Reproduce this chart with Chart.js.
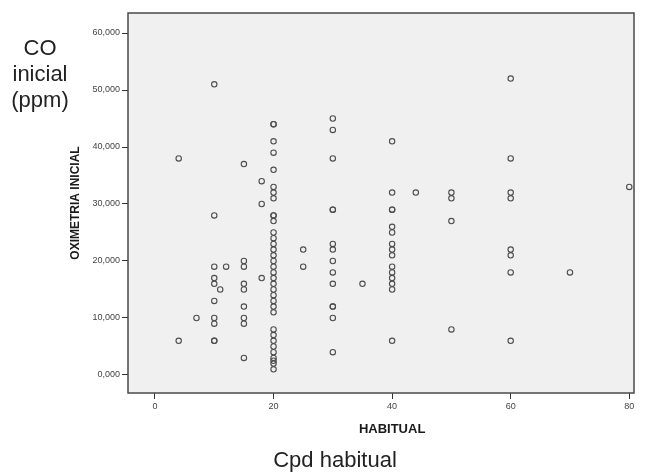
<!DOCTYPE html>
<html>
<head>
<meta charset="utf-8">
<script src="https://cdn.jsdelivr.net/npm/chart.js@4/dist/chart.umd.min.js"></script>
<style>
html,body{margin:0;padding:0;background:#fff;}
#wrap{width:647px;height:474px;position:relative;}
</style>
</head>
<body>
<div id="wrap"><canvas id="c" width="647" height="474"></canvas></div>
<script>
// HABITUAL (cigarettes per day) for each case
const habitual = [
  4,4,
  7,
  10,10,10,10,10,10,10,10,10,10,
  11,
  12,
  15,15,15,15,15,15,15,15,15,
  18,18,18,
  20,20,20,20,20,20,20,20,20,20,20,20,20,20,20,20,20,20,20,20,20,20,20,20,20,20,20,20,20,20,20,20,20,20,20,
  25,25,
  30,30,30,30,30,30,30,30,30,30,30,30,30,30,
  35,
  40,40,40,40,40,40,40,40,40,40,40,40,40,40,40,
  44,
  50,50,50,50,
  60,60,60,60,60,60,60,60,
  70,
  80
];
// OXIMETRIA INICIAL (CO ppm) for each case
const oximetria = [
  38,6,
  10,
  51,28,19,17,16,13,10,9,6,6,
  15,
  19,
  37,20,19,16,15,12,10,9,3,
  34,30,17,
  44,44,41,39,36,33,32,31,28,28,27,25,24,23,22,21,20,19,18,17,16,15,14,13,12,11,8,7,6,5,4,3,2.5,2,1,
  22,19,
  45,43,38,29,29,23,22,20,18,16,12,12,10,4,
  16,
  41,32,29,29,26,25,23,22,21,19,18,17,16,15,6,
  32,
  32,31,27,8,
  52,38,32,31,22,21,18,6,
  18,
  33
];
const xTickValues = [0,20,40,60,80];
const xTickLabels = ['0','20','40','60','80'];
const yTickValues = [0,10,20,30,40,50,60];
const yTickLabels = ['0,000','10,000','20,000','30,000','40,000','50,000','60,000'];
const yAxisTitle = 'OXIMETRIA INICIAL';
const xAxisTitle = 'HABITUAL';
const leftNote = ['CO','inicial','(ppm)'];
const bottomNote = 'Cpd habitual';

const points = habitual.map((x,i)=>({x:x,y:oximetria[i]}));

const decor = {
  id:'decor',
  beforeDraw(chart){
    const {ctx, chartArea:a} = chart;
    ctx.save();
    ctx.fillStyle = '#f0f0f0';
    ctx.fillRect(a.left, a.top, a.right-a.left, a.bottom-a.top);
    ctx.restore();
  },
  afterDraw(chart){
    const {ctx, chartArea:a, scales} = chart;
    ctx.save();
    ctx.strokeStyle = '#4a4a4a';
    ctx.lineWidth = 1.5;
    ctx.strokeRect(a.left, a.top, a.right-a.left, a.bottom-a.top);
    // x axis title centred on the data range
    ctx.fillStyle = '#1a1a1a';
    ctx.font = 'bold 13px "Liberation Sans", Arial, sans-serif';
    ctx.textAlign = 'center';
    ctx.textBaseline = 'alphabetic';
    ctx.fillText(xAxisTitle, scales.x.getPixelForValue(40), 433);
    // notes
    ctx.fillStyle = '#222';
    ctx.font = '22px "Liberation Sans", Arial, sans-serif';
    const base = [55,81,107];
    leftNote.forEach((t,i)=>ctx.fillText(t, 40, base[i]));
    ctx.fillText(bottomNote, 335, 467);
    ctx.restore();
  }
};

new Chart(document.getElementById('c'), {
  type:'scatter',
  data:{datasets:[{
    data:points,
    clip:false,
    pointStyle:'circle',
    pointRadius:2.7,
    pointBorderWidth:1.1,
    borderColor:'#4d4d4d',
    backgroundColor:'rgba(0,0,0,0)',
    pointHoverRadius:2.7
  }]},
  options:{
    responsive:false,
    animation:false,
    events:[],
    layout:{padding:{left:0,right:13,top:13,bottom:0}},
    plugins:{legend:{display:false},tooltip:{enabled:false}},
    scales:{
      x:{
        type:'linear',
        min:-4.55, max:80.8,
        afterBuildTicks(s){ s.ticks = xTickValues.map(v=>({value:v})); },
        afterFit(s){ s.height = 81; },
        grid:{drawOnChartArea:false, drawTicks:true, tickLength:6, color:'#333', lineWidth:1},
        border:{display:false},
        ticks:{
          padding:2,
          color:'#444',
          font:{family:'"Liberation Sans", Arial, sans-serif', size:9},
          callback(v){ const i = xTickValues.indexOf(v); return i>=0 ? xTickLabels[i] : ''; },
          maxRotation:0, autoSkip:false
        }
      },
      y:{
        type:'linear',
        min:-3.16, max:63.51,
        afterBuildTicks(s){ s.ticks = yTickValues.map(v=>({value:v})); },
        afterFit(s){ s.width = 128; },
        grid:{drawOnChartArea:false, drawTicks:true, tickLength:6, color:'#333', lineWidth:1},
        border:{display:false},
        title:{
          display:true,
          text:yAxisTitle,
          color:'#1a1a1a',
          font:{family:'"Liberation Sans", Arial, sans-serif', size:12, weight:'bold', lineHeight:1.2},
          padding:{top:68.8,bottom:0}
        },
        ticks:{
          padding:2,
          color:'#444',
          font:{family:'"Liberation Sans", Arial, sans-serif', size:9},
          callback(v){ const i = yTickValues.indexOf(v); return i>=0 ? yTickLabels[i] : ''; },
          autoSkip:false
        }
      }
    }
  },
  plugins:[decor]
});
</script>
</body>
</html>
